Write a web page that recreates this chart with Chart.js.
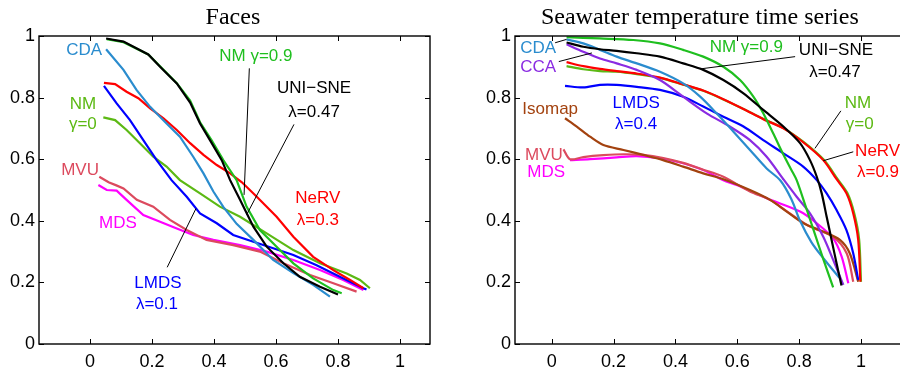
<!DOCTYPE html>
<html><head><meta charset="utf-8">
<script src="https://cdn.jsdelivr.net/npm/chart.js@4"></script>
<style>
html,body{margin:0;padding:0;background:#fff;overflow:hidden;width:900px;height:367px;}
#wrap{position:relative;width:900px;height:367px;overflow:hidden;background:#fff;}
canvas{position:absolute;top:0;}
#c1{left:0}
#c2{left:476px}
</style></head><body><div id="wrap"><canvas id="c1" width="440" height="367"></canvas><canvas id="c2" width="440" height="367"></canvas></div>
<script>
// ---- tick values / labels ----
const xTickValues = [0, 0.2, 0.4, 0.6, 0.8, 1];
const xTickLabels = ['0', '0.2', '0.4', '0.6', '0.8', '1'];
const yTickValues = [0, 0.2, 0.4, 0.6, 0.8, 1];
const yTickLabels = ['0', '0.2', '0.4', '0.6', '0.8', '1'];
const panelTitles = ['Faces', 'Seawater temperature time series'];

// ---- Faces panel series ([x, y] pairs) ----
const facesUNISNE = [[0.052,0.992],[0.108,0.982],[0.188,0.94],[0.226,0.9],[0.28,0.846],[0.323,0.784],[0.355,0.716],[0.387,0.662],[0.425,0.597],[0.452,0.532],[0.484,0.468],[0.527,0.381],[0.57,0.316],[0.624,0.262],[0.677,0.218],[0.742,0.186],[0.8,0.161]];
const facesNM09 = [[0.054,0.99],[0.108,0.98],[0.188,0.94],[0.226,0.902],[0.28,0.847],[0.323,0.79],[0.355,0.72],[0.392,0.662],[0.43,0.597],[0.473,0.532],[0.505,0.446],[0.548,0.37],[0.602,0.316],[0.656,0.262],[0.72,0.213],[0.785,0.175],[0.812,0.165]];
const facesCDA = [[0.052,0.957],[0.108,0.89],[0.15,0.825],[0.194,0.77],[0.247,0.716],[0.29,0.673],[0.333,0.608],[0.366,0.554],[0.398,0.495],[0.43,0.445],[0.473,0.39],[0.527,0.338],[0.591,0.273],[0.656,0.23],[0.72,0.192],[0.774,0.154]];
const facesNeRV = [[0.045,0.848],[0.081,0.844],[0.118,0.819],[0.156,0.798],[0.194,0.765],[0.237,0.733],[0.28,0.695],[0.323,0.652],[0.366,0.614],[0.409,0.581],[0.452,0.554],[0.49,0.525],[0.538,0.478],[0.602,0.413],[0.656,0.348],[0.72,0.283],[0.785,0.24],[0.839,0.208],[0.882,0.181]];
const facesLMDS = [[0.045,0.838],[0.086,0.781],[0.129,0.727],[0.172,0.662],[0.215,0.597],[0.263,0.532],[0.312,0.478],[0.355,0.424],[0.409,0.392],[0.462,0.354],[0.527,0.332],[0.591,0.311],[0.656,0.289],[0.731,0.256],[0.806,0.218],[0.882,0.181],[0.892,0.177]];
const facesNM0 = [[0.043,0.736],[0.081,0.727],[0.118,0.695],[0.161,0.652],[0.204,0.608],[0.247,0.576],[0.29,0.532],[0.355,0.489],[0.419,0.446],[0.484,0.413],[0.57,0.359],[0.656,0.305],[0.742,0.262],[0.828,0.229],[0.871,0.208],[0.903,0.181]];
const facesMVU = [[0.03,0.543],[0.06,0.525],[0.085,0.515],[0.108,0.505],[0.151,0.468],[0.204,0.446],[0.258,0.403],[0.312,0.37],[0.376,0.338],[0.462,0.321],[0.548,0.3],[0.624,0.262],[0.71,0.224],[0.785,0.197],[0.86,0.17]];
const facesMDS = [[0.027,0.516],[0.054,0.5],[0.086,0.498],[0.118,0.468],[0.172,0.419],[0.226,0.397],[0.28,0.375],[0.333,0.354],[0.398,0.338],[0.484,0.321],[0.57,0.3],[0.656,0.273],[0.742,0.24],[0.817,0.208],[0.882,0.175]];

// ---- Seawater panel series ----
const seaUNISNE = [[0.048,0.979],[0.102,0.965],[0.156,0.957],[0.21,0.952],[0.275,0.944],[0.35,0.933],[0.425,0.911],[0.49,0.89],[0.555,0.857],[0.62,0.814],[0.684,0.76],[0.749,0.706],[0.803,0.652],[0.835,0.597],[0.857,0.543],[0.873,0.489],[0.889,0.413],[0.905,0.338],[0.921,0.262],[0.937,0.19]];
const seaNM09 = [[0.048,0.996],[0.156,0.992],[0.264,0.987],[0.35,0.976],[0.425,0.955],[0.49,0.933],[0.555,0.9],[0.609,0.857],[0.652,0.803],[0.684,0.749],[0.716,0.684],[0.749,0.615],[0.775,0.565],[0.792,0.532],[0.82,0.45],[0.85,0.36],[0.88,0.27],[0.91,0.184]];
const seaCDA = [[0.048,0.989],[0.102,0.976],[0.156,0.955],[0.21,0.933],[0.275,0.911],[0.35,0.884],[0.425,0.846],[0.48,0.803],[0.533,0.749],[0.587,0.69],[0.641,0.63],[0.695,0.57],[0.74,0.53],[0.775,0.47],[0.803,0.4],[0.84,0.33],[0.877,0.28],[0.93,0.215]];
const seaCCA = [[0.048,0.973],[0.102,0.949],[0.156,0.927],[0.21,0.911],[0.275,0.89],[0.35,0.857],[0.425,0.803],[0.501,0.749],[0.576,0.706],[0.641,0.662],[0.695,0.608],[0.749,0.535],[0.792,0.478],[0.835,0.424],[0.878,0.348],[0.91,0.273],[0.943,0.192]];
const seaNeRV = [[0.048,0.915],[0.102,0.902],[0.156,0.893],[0.21,0.886],[0.275,0.878],[0.35,0.865],[0.425,0.843],[0.49,0.823],[0.555,0.795],[0.62,0.763],[0.684,0.73],[0.749,0.7],[0.813,0.655],[0.878,0.597],[0.921,0.535],[0.953,0.489],[0.975,0.424],[0.991,0.338],[0.998,0.202]];
const seaNM0 = [[0.048,0.902],[0.102,0.892],[0.156,0.886],[0.21,0.884],[0.275,0.876],[0.35,0.864],[0.425,0.842],[0.49,0.822],[0.555,0.794],[0.62,0.763],[0.684,0.731],[0.749,0.701],[0.813,0.657],[0.88,0.598],[0.924,0.536],[0.956,0.49],[0.978,0.425],[0.994,0.34],[1.0,0.202]];
const seaLMDS = [[0.043,0.838],[0.102,0.833],[0.156,0.841],[0.21,0.841],[0.275,0.835],[0.35,0.825],[0.425,0.803],[0.49,0.771],[0.555,0.738],[0.62,0.706],[0.684,0.662],[0.749,0.619],[0.813,0.576],[0.857,0.532],[0.889,0.489],[0.921,0.435],[0.953,0.37],[0.975,0.294],[0.991,0.208]];
const seaIsomap = [[0.043,0.733],[0.081,0.706],[0.124,0.673],[0.167,0.646],[0.232,0.63],[0.296,0.614],[0.36,0.597],[0.425,0.576],[0.49,0.554],[0.555,0.535],[0.641,0.5],[0.706,0.468],[0.76,0.43],[0.814,0.392],[0.878,0.365],[0.932,0.338],[0.964,0.294],[0.991,0.202]];
const seaMVU = [[0.038,0.632],[0.059,0.6],[0.102,0.607],[0.167,0.613],[0.232,0.616],[0.296,0.614],[0.361,0.604],[0.425,0.588],[0.49,0.566],[0.555,0.543],[0.641,0.495],[0.706,0.468],[0.77,0.424],[0.835,0.381],[0.91,0.348],[0.954,0.294],[0.975,0.202]];
const seaMDS = [[0.059,0.597],[0.124,0.6],[0.21,0.606],[0.275,0.61],[0.35,0.603],[0.425,0.587],[0.49,0.565],[0.555,0.532],[0.598,0.516],[0.695,0.473],[0.803,0.43],[0.857,0.392],[0.91,0.343],[0.9375,0.284],[0.959,0.197]];

// ---- colours ----
const C = {
  black:'#000000', cda:'#2a8cce', nm09:'#1fbf1f', nm0:'#5cb914', nerv:'#ff0000',
  lmds:'#0000ff', mvu:'#dc4a5e', mds:'#ff00ff', isomap:'#a3420f', cca:'#8a2be2'
};

function ds(pairs, color, tension){
  return {data: pairs.map(p => ({x:p[0], y:p[1]})), borderColor: color, backgroundColor: color,
          borderWidth: 2.2, pointRadius: 0, showLine: true, tension: tension, fill: false};
}

const boxPlugin = {
  id: 'box',
  afterDatasetsDraw(chart, args, opts){
    const ctx = chart.ctx, a = chart.chartArea, xs = chart.scales.x, ys = chart.scales.y;
    const line = (x1,y1,x2,y2) => {ctx.beginPath(); ctx.moveTo(x1,y1); ctx.lineTo(x2,y2); ctx.stroke();};
    ctx.save();
    ctx.strokeStyle = '#000';
    ctx.lineWidth = 1;
    xTickValues.forEach(v => {const p = Math.round(xs.getPixelForValue(v)) + 0.5; line(p, a.bottom, p, a.bottom - 5); line(p, a.top, p, a.top + 5);});
    yTickValues.forEach(v => {const p = Math.round(ys.getPixelForValue(v)) + 0.5; line(a.left, p, a.left + 5, p); line(a.right, p, a.right - 5, p);});
    ctx.lineWidth = 1.4;
    ctx.strokeRect(a.left, a.top, a.right - a.left, a.bottom - a.top);
    ctx.lineWidth = 1;
    opts.pointers.forEach(p => line(xs.getPixelForValue(p[0]), ys.getPixelForValue(p[1]), xs.getPixelForValue(p[2]), ys.getPixelForValue(p[3])));
    ctx.font = '17px "Liberation Sans", Arial, sans-serif';
    ctx.textBaseline = 'middle';
    opts.labels.forEach(l => {
      ctx.fillStyle = l.color; ctx.textAlign = l.align || 'center';
      ctx.fillText(l.text, xs.getPixelForValue(l.x), ys.getPixelForValue(l.y));
    });
    ctx.font = '24px "Liberation Serif", "Times New Roman", serif';
    ctx.fillStyle = '#000'; ctx.textAlign = 'center'; ctx.textBaseline = 'alphabetic';
    ctx.fillText(opts.title, xs.getPixelForValue(opts.titleX), 24);
    ctx.restore();
  }
};

function scales(xmin, xmax){
  return {
    x: {type:'linear', min:xmin, max:xmax,
        afterBuildTicks(s){ s.ticks = xTickValues.map(v => ({value:v})); },
        afterFit(s){ s.height = 23; },
        grid:{display:false, drawTicks:false}, border:{display:false},
        ticks:{autoSkip:false, maxRotation:0, minRotation:0, padding:7, color:'#000',
               font:{family:'"Liberation Sans", Arial, sans-serif', size:18},
               callback:(v) => xTickLabels[xTickValues.indexOf(v)]}},
    y: {type:'linear', min:0, max:1,
        afterBuildTicks(s){ s.ticks = yTickValues.map(v => ({value:v})); },
        afterFit(s){ s.width = 39; },
        grid:{display:false, drawTicks:false}, border:{display:false},
        ticks:{autoSkip:false, padding:4, color:'#000',
               font:{family:'"Liberation Sans", Arial, sans-serif', size:18},
               callback:(v) => yTickLabels[yTickValues.indexOf(v)]}}
  };
}

function makeChart(id, datasets, xmin, xmax, rightPad, opts){
  return new Chart(document.getElementById(id), {
    type: 'scatter',
    data: {datasets: datasets},
    options: {
      responsive: false, animation: false, devicePixelRatio: 1,
      layout: {padding: {top: 36, right: rightPad, left: 0, bottom: 0}},
      plugins: {legend:{display:false}, tooltip:{enabled:false}, title:{display:false}, box: opts},
      scales: scales(xmin, xmax)
    },
    plugins: [boxPlugin]
  });
}

makeChart('c1', [
  ds(facesUNISNE, C.black, 0), ds(facesNM09, C.nm09, 0), ds(facesCDA, C.cda, 0), ds(facesNeRV, C.nerv, 0),
  ds(facesLMDS, C.lmds, 0), ds(facesNM0, C.nm0, 0), ds(facesMVU, C.mvu, 0), ds(facesMDS, C.mds, 0)
], -0.1645, 1.0968, 10, {
  title: panelTitles[0], titleX: 0.461,
  pointers: [[0.514,0.895,0.497,0.484],[0.658,0.713,0.505,0.419],[0.342,0.44,0.249,0.249]],
  labels: [
    {text:'CDA', color:C.cda, x:-0.019, y:0.955},
    {text:'NM', color:C.nm0, x:-0.023, y:0.779},
    {text:'γ=0', color:C.nm0, x:-0.023, y:0.714},
    {text:'MVU', color:C.mvu, x:-0.032, y:0.565},
    {text:'MDS', color:C.mds, x:0.09, y:0.393},
    {text:'NM γ=0.9', color:C.nm09, x:0.535, y:0.935},
    {text:'UNI−SNE', color:C.black, x:0.723, y:0.831},
    {text:'λ=0.47', color:C.black, x:0.723, y:0.753},
    {text:'NeRV', color:C.nerv, x:0.735, y:0.474},
    {text:'λ=0.3', color:C.nerv, x:0.735, y:0.403},
    {text:'LMDS', color:C.lmds, x:0.219, y:0.198},
    {text:'λ=0.1', color:C.lmds, x:0.216, y:0.13}
  ]
});

makeChart('c2', [
  ds(seaUNISNE, C.black, 0.3), ds(seaNM09, C.nm09, 0.3), ds(seaCDA, C.cda, 0.3), ds(seaCCA, C.cca, 0.3),
  ds(seaNeRV, C.nerv, 0.3), ds(seaNM0, C.nm0, 0.3), ds(seaLMDS, C.lmds, 0.3), ds(seaIsomap, C.isomap, 0.3),
  ds(seaMVU, C.mvu, 0.3), ds(seaMDS, C.mds, 0.3)
], -0.1187, 1.152, 8, {
  title: panelTitles[1], titleX: 0.479,
  pointers: [[0.011,0.978,0.048,0.989],[0.023,0.917,0.13,0.945],[0.787,0.933,0.479,0.893],[0.935,0.757,0.851,0.635],[0.975,0.624,0.878,0.595]],
  labels: [
    {text:'CDA', color:C.cda, x:-0.044, y:0.961},
    {text:'CCA', color:C.cca, x:-0.044, y:0.899},
    {text:'NM γ=0.9', color:C.nm09, x:0.629, y:0.964},
    {text:'UNI−SNE', color:C.black, x:0.919, y:0.955},
    {text:'λ=0.47', color:C.black, x:0.916, y:0.883},
    {text:'LMDS', color:C.lmds, x:0.273, y:0.782},
    {text:'λ=0.4', color:C.lmds, x:0.273, y:0.714},
    {text:'Isomap', color:C.isomap, x:-0.005, y:0.763},
    {text:'MVU', color:C.mvu, x:-0.025, y:0.614},
    {text:'MDS', color:C.mds, x:-0.018, y:0.558},
    {text:'NM', color:C.nm0, x:0.99, y:0.782},
    {text:'γ=0', color:C.nm0, x:0.996, y:0.714},
    {text:'NeRV', color:C.nerv, x:0.981, y:0.627, align:'left'},
    {text:'λ=0.9', color:C.nerv, x:0.987, y:0.558, align:'left'}
  ]
});
</script>
</body></html>
